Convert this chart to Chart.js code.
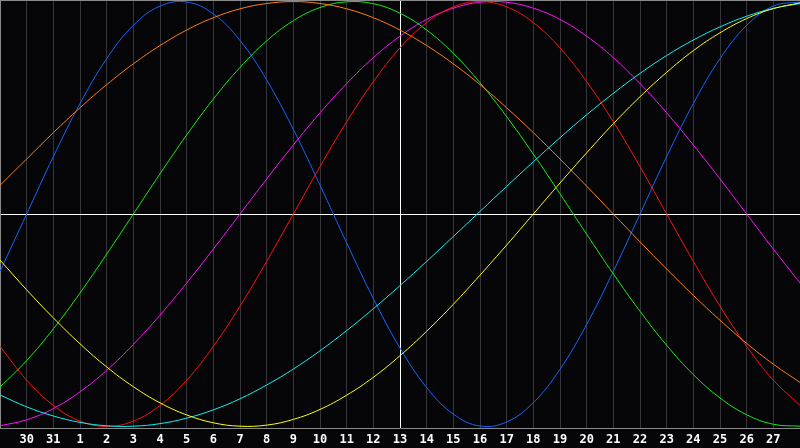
<!DOCTYPE html>
<html>
<head>
<meta charset="utf-8">
<script src="https://cdn.jsdelivr.net/npm/chart.js@4"></script>
<style>
  html, body { margin: 0; padding: 0; background: #060609; }
  #wrap { width: 800px; height: 448px; }
</style>
</head>
<body>
<div id="wrap"><canvas id="bioChart"></canvas></div>
<script>
// day labels under each grid line (first and last are off the edge)
const dayLabels = ["", "30", "31", "1", "2", "3", "4", "5", "6", "7", "8", "9", "10", "11", "12",
  "13", "14", "15", "16", "17", "18", "19", "20", "21", "22", "23", "24", "25", "26", "27", ""];

// values, one per day, -1..1
const blueVals = [-0.27, 0, 0.27, 0.52, 0.731, 0.888, 0.979, 0.998, 0.942, 0.817, 0.631, 0.398, 0.136,
  -0.136, -0.398, -0.631, -0.817, -0.942, -0.998, -0.979, -0.888, -0.731, -0.52, -0.27, 0,
  0.27, 0.52, 0.731, 0.888, 0.979, 0.998];
const greenVals = [-0.815, -0.69, -0.541, -0.372, -0.189, 0, 0.189, 0.372, 0.541, 0.69, 0.815, 0.91,
  0.972, 0.999, 0.99, 0.945, 0.866, 0.756, 0.618, 0.458, 0.282, 0.095, -0.095, -0.282, -0.458,
  -0.618, -0.756, -0.866, -0.945, -0.99, -0.999];
const redVals = [-0.623, -0.782, -0.901, -0.975, -1, -0.975, -0.901, -0.782, -0.623, -0.434, -0.223, 0,
  0.223, 0.434, 0.623, 0.782, 0.901, 0.975, 1, 0.975, 0.901, 0.782, 0.623, 0.434, 0.223, 0,
  -0.223, -0.434, -0.623, -0.782, -0.901];
const magentaVals = [-0.997, -0.969, -0.916, -0.837, -0.736, -0.614, -0.476, -0.325, -0.165, 0, 0.165,
  0.325, 0.476, 0.614, 0.736, 0.837, 0.916, 0.969, 0.997, 0.997, 0.969, 0.916, 0.837, 0.736,
  0.614, 0.476, 0.325, 0.165, 0, -0.165, -0.325];
const yellowVals = [-0.217, -0.357, -0.489, -0.611, -0.72, -0.813, -0.889, -0.946, -0.983, -0.999, -0.994,
  -0.967, -0.92, -0.853, -0.769, -0.667, -0.552, -0.425, -0.288, -0.146, 0, 0.146, 0.288, 0.425,
  0.552, 0.667, 0.769, 0.853, 0.92, 0.967, 0.994];
const orangeVals = [0.135, 0.259, 0.383, 0.5, 0.609, 0.707, 0.793, 0.866, 0.924, 0.966, 0.991, 1,
  0.991, 0.966, 0.924, 0.866, 0.793, 0.707, 0.609, 0.5, 0.383, 0.259, 0.131, 0, -0.131, -0.259,
  -0.383, -0.5, -0.609, -0.707, -0.793];
const cyanVals = [-0.852, -0.908, -0.951, -0.981, -0.997, -0.999, -0.987, -0.961, -0.922, -0.87, -0.805,
  -0.73, -0.644, -0.549, -0.446, -0.337, -0.223, -0.106, 0.012, 0.13, 0.246, 0.359, 0.467, 0.568,
  0.662, 0.746, 0.819, 0.881, 0.931, 0.968, 0.991];

const todayIndex = 15;
const bgColor = "#060609";
const gridColor = "#36363a";
const frameColor = "#8a8a8a";

const series = [
  { data: yellowVals, color: "#ffff10" },
  { data: cyanVals, color: "#10f0f0" },
  { data: orangeVals, color: "#ff8010" },
  { data: greenVals, color: "#10f010" },
  { data: redVals, color: "#ff1010" },
  { data: magentaVals, color: "#ff10ff" },
  { data: blueVals, color: "#1464ff" },
];

const frame = {
  id: "frame",
  beforeDraw(chart) {
    const ctx = chart.ctx;
    ctx.save();
    ctx.fillStyle = bgColor;
    ctx.fillRect(0, 0, chart.width, chart.height);
    ctx.restore();
  },
  afterDraw(chart) {
    const { ctx, chartArea } = chart;
    ctx.save();
    ctx.strokeStyle = frameColor;
    ctx.lineWidth = 1;
    ctx.beginPath();
    ctx.moveTo(chartArea.left, chartArea.top + 0.5);
    ctx.lineTo(chartArea.right, chartArea.top + 0.5);
    ctx.stroke();
    ctx.restore();
  },
};

new Chart(document.getElementById("bioChart"), {
  type: "line",
  data: {
    labels: dayLabels,
    datasets: series.map((s) => ({
      data: s.data,
      borderColor: s.color,
      borderWidth: 1,
      pointRadius: 0,
      pointHoverRadius: 0,
      pointBorderWidth: 0,
      pointHoverBorderWidth: 0,
      tension: 0.4,
      fill: false,
      clip: 0,
    })),
  },
  options: {
    responsive: true,
    maintainAspectRatio: false,
    animation: false,
    events: [],
    layout: { padding: 0, autoPadding: false },
    plugins: { legend: { display: false }, tooltip: { enabled: false } },
    scales: {
      x: {
        offset: false,
        grid: {
          drawTicks: false,
          color: (c) => (c.index === todayIndex ? "#ffffff" : c.index === 0 ? "rgba(0,0,0,0)" : gridColor),
        },
        border: { display: true, color: frameColor },
        ticks: {
          autoSkip: false,
          maxRotation: 0,
          color: "#ffffff",
          padding: 5,
          font: { family: "DejaVu Sans Mono", size: 12, weight: "bold" },
        },
        afterFit: (scale) => {
          scale.height = 20;
          scale.paddingLeft = 0;
          scale.paddingRight = 0;
        },
      },
      y: {
        min: -1.0075,
        max: 1.0075,
        afterBuildTicks: (scale) => { scale.ticks = [{ value: 0 }]; },
        grid: { drawTicks: false, color: "#ffffff" },
        border: { display: true, color: frameColor },
        ticks: { display: false },
        afterFit: (scale) => { scale.width = 0; },
      },
    },
  },
  plugins: [frame],
});
</script>
</body>
</html>
